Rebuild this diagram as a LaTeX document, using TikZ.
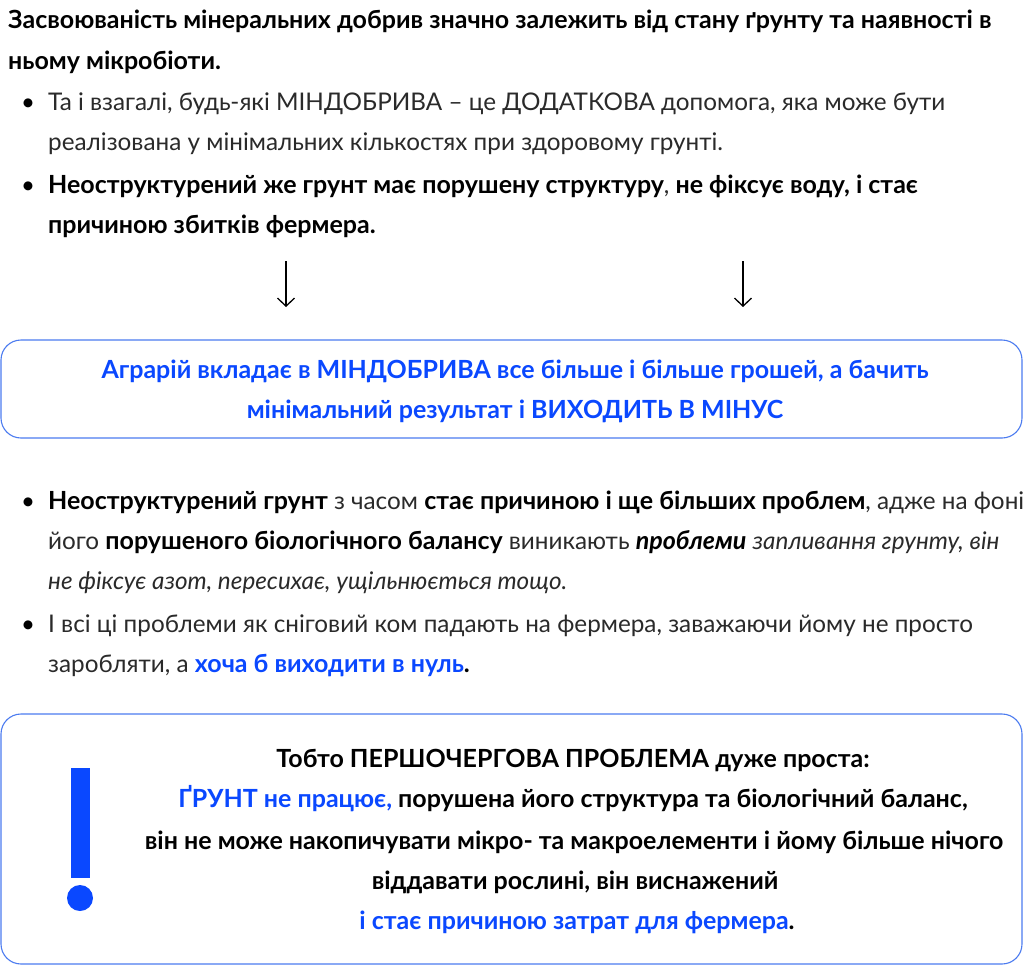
\documentclass[tikz,border=0pt]{standalone}
\usepackage{fontspec}
\setmainfont{Lato}
\usetikzlibrary{arrows.meta}
\definecolor{ublue}{HTML}{0A48FF}
\definecolor{bordblue}{HTML}{4C7CF0}
\definecolor{lightt}{HTML}{2A2A2A}
\newcommand{\bl}[1]{\textcolor{ublue}{#1}}
\newcommand{\lt}[1]{\textcolor{lightt}{#1}}
\newcommand{\bb}[1]{{\fontsize{25}{29}\selectfont\bfseries #1}}
\tikzset{
  ln/.style={anchor=base west, inner sep=0pt, font=\fontsize{24.3}{28}\selectfont},
  lnb/.style={anchor=base west, inner sep=0pt, font=\fontsize{25}{29}\selectfont\bfseries},
  lnc/.style={anchor=base, inner sep=0pt, font=\fontsize{25}{29}\selectfont\bfseries},
  bul/.style={anchor=base, inner sep=0pt, font=\fontsize{24}{28}\selectfont},
  rbox/.style={draw=bordblue, line width=1.1pt, rounded corners=20pt, fill=white, inner sep=0pt},
  darr/.style={line width=1.3pt, -{Straight Barb[length=8pt,width=17pt,line width=1.3pt]}},
  excl/.style={fill=ublue, draw=none, inner sep=0pt}
}
\begin{document}
\begin{tikzpicture}[x=1pt,y=-1pt]
\fill[white] (0,0) rectangle (1024,966);
\useasboundingbox (0,0) rectangle (1024,966);

% top paragraph
\node[lnb] (l1) at (8,29) {Засвоюваність мінеральних добрив значно залежить від стану ґрунту та наявності в};
\node[lnb] (l2) at (8,69) {ньому мікробіоти.};

\node[bul] (b1) at (28,110) {•};
\node[ln] (b1a) at (48,110) {\lt{Та і взагалі, будь-які МІНДОБРИВА – це ДОДАТКОВА допомога, яка може бути}};
\node[ln] (b1b) at (48,150) {\lt{реалізована у мінімальних кількостях при здоровому грунті.}};

\node[bul] (b2) at (28,193) {•};
\node[ln] (b2a) at (48,193) {\bb{Неоструктурений же грунт має порушену структуру}\lt{,} \bb{не фіксує воду, і стає}};
\node[lnb] (b2b) at (48,233) {причиною збитків фермера.};

% arrows
\coordinate (a1s) at (286,261);
\coordinate (a1e) at (286,307);
\coordinate (a2s) at (743,261);
\coordinate (a2e) at (743,307);
\draw[darr] (a1s) -- (a1e);
\draw[darr] (a2s) -- (a2e);

% box 1
\node[rbox, minimum width=1021pt, minimum height=98pt] (box1) at (511.5,389) {};
\node[lnc] (t1a) at (515,378) {\bl{Аграрій вкладає в МІНДОБРИВА все більше і більше грошей, а бачить}};
\node[lnc] (t1b) at (515,418) {\bl{мінімальний результат і ВИХОДИТЬ В МІНУС}};

% middle bullets
\node[bul] (b3) at (28,509) {•};
\node[ln] (b3a) at (48,509) {\bb{Неоструктурений грунт} \lt{з часом} \bb{стає причиною і ще більших проблем}\lt{, адже на фоні}};
\node[ln] (b3b) at (48,549) {\lt{його} \bb{порушеного біологічного балансу} \lt{виникають} \bb{\itshape проблеми} \lt{\itshape запливання грунту, він}};
\node[ln] (b3c) at (48,589) {\lt{\itshape не фіксує азот, пересихає, ущільнюється тощо.}};

\node[bul] (b4) at (28,632) {•};
\node[ln] (b4a) at (48,632) {\lt{І всі ці проблеми як сніговий ком падають на фермера, заважаючи йому не просто}};
\node[ln] (b4b) at (48,672) {\lt{заробляти, а} \bb{\bl{хоча б виходити в нуль}.}};

% box 2
\node[rbox, minimum width=1021pt, minimum height=250pt] (box2) at (511.5,839) {};
\node[excl, minimum width=19pt, minimum height=110pt] (bar) at (80.5,823) {};
\node[excl, circle, minimum size=26pt] (dot) at (80,898) {};
\node[lnc] (t2a) at (573,767) {Тобто ПЕРШОЧЕРГОВА ПРОБЛЕМА дуже проста:};
\node[lnc] (t2b) at (573,807) {\bl{ҐРУНТ не працює,} порушена його структура та біологічний баланс,};
\node[lnc] (t2c) at (574,849) {він не може накопичувати мікро- та макроелементи і йому більше нічого};
\node[lnc] (t2d) at (575,889) {віддавати рослині, він виснажений};
\node[lnc] (t2e) at (577,929) {\bl{і стає причиною затрат для фермера}.};
\end{tikzpicture}
\end{document}
